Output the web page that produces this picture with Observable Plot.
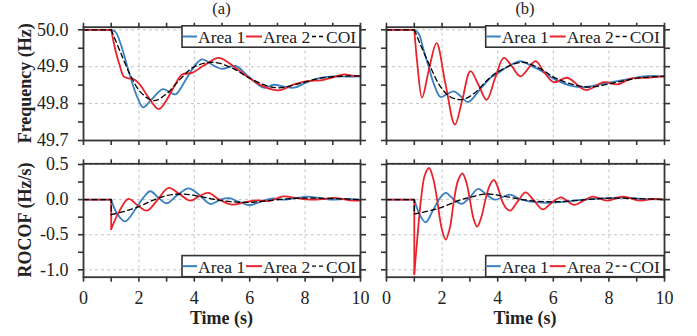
<!DOCTYPE html>
<html><head><meta charset="utf-8">
<script src="https://cdn.jsdelivr.net/npm/d3@7"></script>
<script src="https://cdn.jsdelivr.net/npm/@observablehq/plot@0.6"></script>
<style>
body{margin:0;background:#fff;}
#wrap{position:relative;width:697px;height:336px;overflow:hidden;font-family:'Liberation Serif','Times New Roman',serif;background:#fff;}
#wrap > svg{position:absolute;}
#wrap svg text{font-family:'Liberation Serif','Times New Roman',serif !important;}
</style></head><body><div id="wrap"></div>
<script>
// ---------- data ----------
const seriesNames = ["Area 1", "Area 2", "COI"];
const panelTitles = ["(a)", "(b)"];
const xTicks = [0,1,2,3,4,5,6,7,8,9,10];
const xMajor = [0,2,4,6,8,10];
const freqTicks = [49.7,49.75,49.8,49.85,49.9,49.95,50.0];
const freqMajor = [49.7,49.8,49.9,50.0];
const rocofTicks = [-1.0,-0.75,-0.5,-0.25,0.0,0.25,0.5];
const rocofMajor = [-1.0,-0.5,0.0,0.5];

// [time (s), frequency (Hz)]
const freqA_area1 = [[0,50],[1,50],[1.16,49.994],[1.34,49.962],[1.52,49.917],[1.7,49.87],[1.94,49.818],[2.15,49.79],[2.42,49.808],[2.86,49.839],[3.1,49.832],[3.32,49.825],[3.68,49.863],[3.98,49.899],[4.28,49.92],[4.7,49.903],[5.0,49.894],[5.49,49.902],[5.97,49.872],[6.51,49.843],[6.87,49.851],[7.25,49.846],[7.6,49.843],[8.07,49.858],[8.56,49.87],[9.04,49.874],[9.6,49.873],[10,49.874]];
const freqA_area2 = [[0,50],[1,50],[1.15,49.945],[1.3,49.905],[1.46,49.873],[1.64,49.868],[1.82,49.866],[2.05,49.85],[2.3,49.822],[2.72,49.785],[3.0,49.81],[3.26,49.845],[3.56,49.879],[3.92,49.883],[4.34,49.903],[4.89,49.924],[5.43,49.9],[5.97,49.87],[6.51,49.846],[7.05,49.836],[7.6,49.852],[8.07,49.861],[8.56,49.863],[9.04,49.872],[9.4,49.879],[9.7,49.876],[10,49.874]];
const freqA_coi = [[0,50],[1,50],[1.34,49.938],[1.7,49.876],[2.06,49.831],[2.54,49.808],[3.02,49.828],[3.5,49.867],[3.98,49.899],[4.7,49.912],[5.43,49.894],[5.97,49.87],[6.93,49.843],[7.83,49.855],[8.56,49.869],[9.64,49.875],[10,49.875]];

const freqB_area1 = [[0,50],[1,50],[1.16,49.989],[1.34,49.944],[1.52,49.899],[1.7,49.854],[1.94,49.818],[2.18,49.826],[2.42,49.833],[2.67,49.82],[2.93,49.804],[3.38,49.84],[3.74,49.87],[3.98,49.881],[4.34,49.899],[4.82,49.915],[5.18,49.903],[5.54,49.89],[6.02,49.867],[6.62,49.849],[7.16,49.845],[7.82,49.854],[8.54,49.864],[9.26,49.874],[10,49.874]];
const freqB_area2 = [[0,50],[1,50],[1.1,49.915],[1.28,49.816],[1.52,49.89],[1.8,49.964],[2.12,49.854],[2.46,49.743],[2.72,49.808],[3.02,49.888],[3.32,49.849],[3.6,49.81],[3.92,49.872],[4.22,49.924],[4.52,49.9],[4.82,49.874],[5.36,49.915],[5.66,49.886],[6.02,49.858],[6.5,49.87],[7.16,49.837],[7.82,49.858],[8.3,49.852],[8.78,49.867],[9.38,49.87],[10,49.874]];
const freqB_coi = [[0,50],[1,50],[1.22,49.96],[1.58,49.899],[1.94,49.846],[2.3,49.818],[2.72,49.811],[3.14,49.827],[3.62,49.863],[3.98,49.885],[4.88,49.912],[5.54,49.894],[6.14,49.867],[7.2,49.845],[8.3,49.858],[9.14,49.87],[10,49.874]];

// [time (s), ROCOF (Hz/s)]
const rocA_area1 = [[0,0],[1,0],[1.2,-0.19],[1.5,-0.31],[1.9,-0.12],[2.15,0.02],[2.41,0.119],[2.72,0.02],[3.0,-0.052],[3.35,0.05],[3.79,0.161],[4.2,0.06],[4.57,-0.062],[4.95,0.0],[5.25,0.02],[5.6,-0.03],[6.0,-0.08],[6.45,-0.02],[6.8,0.015],[7.3,0.0],[8.1,0.042],[8.9,0.0],[9.5,0.01],[10,0.0]];
const rocA_area2 = [[0,0],[1,0],[1,-0.42],[1.3,-0.16],[1.62,0.01],[1.95,-0.08],[2.29,-0.157],[2.68,0.0],[3.07,0.166],[3.46,0.08],[3.85,-0.015],[4.18,0.05],[4.51,0.095],[4.9,0.0],[5.35,-0.07],[5.8,-0.04],[6.2,-0.01],[6.7,-0.02],[7.2,0.045],[7.7,0.02],[8.2,0.0],[8.7,0.01],[9.1,0.025],[9.6,-0.01],[10,-0.015]];
const rocA_coi = [[0,0],[1,0],[1,-0.214],[1.5,-0.165],[2.0,-0.1],[2.5,-0.01],[3.0,0.057],[3.6,0.08],[4.2,0.045],[4.7,0.005],[5.3,-0.028],[6.0,-0.04],[6.9,-0.005],[7.8,0.02],[8.8,0.018],[10,0.0]];

const rocB_area1 = [[0,0],[1,0],[1.2,-0.22],[1.41,-0.323],[1.65,-0.17],[1.92,0.02],[2.13,0.095],[2.4,0.01],[2.7,-0.06],[2.97,0.02],[3.3,0.152],[3.6,0.07],[3.9,0.0],[4.44,0.07],[4.85,0.0],[5.44,-0.04],[6.16,-0.04],[7.1,0.0],[7.96,0.02],[8.5,0.03],[9.2,0.01],[10,0.0]];
const rocB_area2 = [[0,0],[1,0],[1,-1.06],[1.12,-0.5],[1.24,0.0],[1.38,0.35],[1.53,0.45],[1.68,0.3],[1.82,0.0],[1.98,-0.4],[2.13,-0.57],[2.28,-0.4],[2.43,0.0],[2.58,0.28],[2.73,0.375],[2.87,0.25],[3.0,0.0],[3.13,-0.27],[3.26,-0.385],[3.41,-0.25],[3.56,0.0],[3.71,0.2],[3.86,0.28],[4.0,0.18],[4.14,0.0],[4.3,-0.12],[4.46,-0.157],[4.62,-0.08],[4.77,0.0],[5.0,0.104],[5.3,-0.01],[5.62,-0.14],[5.95,-0.04],[6.28,0.033],[6.5,-0.02],[6.76,-0.076],[7.1,-0.01],[7.42,0.043],[7.94,-0.014],[8.5,0.043],[9.1,-0.014],[9.64,0.01],[10,0.0]];
const rocB_coi = [[0,0],[1,0],[1,-0.204],[1.8,-0.133],[2.7,0.0],[3.0,0.033],[3.6,0.08],[4.2,0.05],[4.9,0.0],[5.5,-0.025],[6.16,-0.03],[7.2,0.0],[8.0,0.02],[9.0,0.015],[10,0.0]];

// ---------- styling ----------
const colors = ["#3a7fc1", "#e8232b", "#000000"];
const dashes = [null, null, "5,3.5"];
const widths = [1.8, 1.8, 1.3];
const axisColor = "#333";
const fontFamily = "'Liberation Serif','Times New Roman',serif";

function splitSeries(pts) {
  let k = 0;
  pts.forEach((p, i) => { if (p[0] <= 1) k = i; });
  return {pre: pts.slice(0, k + 1), post: pts.slice(k)};
}

function near(arr, d) { return arr.some(v => Math.abs(v - d) < 1e-9); }

function panel(o) {
  const marks = [
    Plot.gridX([2,4,6,8], {stroke:"#c4c4c4", strokeOpacity:1, strokeDasharray:"3,3", strokeWidth:1}),
    Plot.gridY(o.ymajor, {stroke:"#c4c4c4", strokeOpacity:1, strokeDasharray:"3,3", strokeWidth:1})
  ];
  o.series.forEach((pts, i) => {
    const s = splitSeries(pts);
    const common = {x: d => d[0], y: d => d[1], stroke: colors[i], strokeWidth: widths[i], strokeDasharray: dashes[i]};
    marks.push(Plot.line(s.pre, {...common, curve: "linear"}));
    marks.push(Plot.line(s.post, {...common, curve: "catmull-rom"}));
  });
  const ax = {tickSize:5, label:null, stroke:axisColor, strokeWidth:1.6, fontSize:18, fontFamily, fill:"#222"};
  marks.push(
    Plot.frame({stroke:axisColor, strokeWidth:1.8}),
    Plot.axisX(xTicks, {...ax, anchor:"bottom", tickPadding:9,
      tickFormat: o.xlabels ? (d => near(xMajor, d) ? String(d) : "") : () => ""}),
    Plot.axisX(xTicks, {...ax, anchor:"top", tickFormat: () => ""}),
    Plot.axisY(o.yticks, {...ax, anchor:"left", tickPadding:10,
      tickFormat: o.ylabels ? (d => near(o.ymajor, d) ? d.toFixed(1) : "") : () => ""}),
    Plot.axisY(o.yticks, {...ax, anchor:"right", tickFormat: () => ""})
  );
  const svg = Plot.plot({
    width: o.width, height: o.height,
    marginLeft: o.ml, marginRight: o.mr, marginTop: o.mt, marginBottom: o.mb,
    x: {domain: [0, 10]},
    y: {domain: o.ydomain},
    style: {fontFamily, fontSize: "18px", color: "#222", background: "transparent", overflow: "visible"},
    marks
  });
  svg.style.position = "absolute";
  svg.style.left = o.left + "px";
  svg.style.top = o.top + "px";
  svg.style.fontFamily = fontFamily;
  svg.querySelectorAll("text").forEach(t => t.style.fontFamily = fontFamily);
  return svg;
}

const wrap = document.getElementById("wrap");
const freqDomain = [49.7, 50.007];
const rocDomain = [-1.105, 0.51];

// frame: (a) x 83..360, (b) x 386..664 ; top y 26.7..140, bottom y 163.3..276.7
wrap.appendChild(panel({left:0, top:0, width:372, height:152, ml:83, mr:12, mt:26.7, mb:12,
  ydomain:freqDomain, yticks:freqTicks, ymajor:freqMajor, ylabels:true, xlabels:false,
  series:[freqA_area1, freqA_area2, freqA_coi]}));
wrap.appendChild(panel({left:374, top:0, width:323, height:152, ml:12, mr:33, mt:26.7, mb:12,
  ydomain:freqDomain, yticks:freqTicks, ymajor:freqMajor, ylabels:false, xlabels:false,
  series:[freqB_area1, freqB_area2, freqB_coi]}));
wrap.appendChild(panel({left:0, top:152, width:372, height:184, ml:83, mr:12, mt:11.3, mb:59.3,
  ydomain:rocDomain, yticks:rocofTicks, ymajor:rocofMajor, ylabels:true, xlabels:true,
  series:[rocA_area1, rocA_area2, rocA_coi]}));
wrap.appendChild(panel({left:374, top:152, width:323, height:184, ml:12, mr:33, mt:11.3, mb:59.3,
  ydomain:rocDomain, yticks:rocofTicks, ymajor:rocofMajor, ylabels:false, xlabels:true,
  series:[rocB_area1, rocB_area2, rocB_coi]}));

// ---------- overlay: titles, axis labels, legends ----------
const ov = d3.create("svg").attr("width", 697).attr("height", 336)
  .style("position", "absolute").style("left", "0px").style("top", "0px")
  .style("font-family", fontFamily).style("pointer-events", "none");

const titleX = [221.5, 525];
panelTitles.forEach((t, i) => ov.append("text").attr("x", titleX[i]).attr("y", 14)
  .attr("text-anchor", "middle").attr("font-size", 16.5).attr("fill", "#222").text(t));
titleX.forEach(x => ov.append("text").attr("x", x).attr("y", 324)
  .attr("text-anchor", "middle").attr("font-size", 18).attr("font-weight", "bold").attr("fill", "#222").text("Time (s)"));
[["Frequency (Hz)", 83.3], ["ROCOF (Hz/s)", 220]].forEach(([t, cy]) =>
  ov.append("text").attr("transform", `translate(31,${cy}) rotate(-90)`)
    .attr("text-anchor", "middle").attr("font-size", 18).attr("font-weight", "bold").attr("fill", "#222").text(t));

function legend(x0, x1, y0, y1) {
  const g = ov.append("g");
  g.append("rect").attr("x", x0).attr("y", y0).attr("width", x1 - x0).attr("height", y1 - y0)
    .attr("fill", "#fff").attr("stroke", axisColor).attr("stroke-width", 1.6);
  const ym = (y0 + y1) / 2;
  const base = ym + 6.8;
  const items = [[x0 + 1, x0 + 15, x0 + 16], [x0 + 64, x0 + 80, x0 + 81], [x0 + 130, x0 + 143, x0 + 144]];
  items.forEach(([a, b, tx], i) => {
    g.append("line").attr("x1", a).attr("x2", b).attr("y1", ym).attr("y2", ym)
      .attr("stroke", colors[i]).attr("stroke-width", i === 2 ? 1.3 : 2)
      .attr("stroke-dasharray", i === 2 ? "4,3" : null);
    g.append("text").attr("x", tx).attr("y", base).attr("font-size", 17.5).attr("fill", "#222").text(seriesNames[i]);
  });
}
legend(182, 360, 25.8, 47.2);
legend(485.7, 664, 25.8, 47.2);
legend(182, 360, 255.6, 276.7);
legend(485.7, 664, 255.6, 276.7);

wrap.appendChild(ov.node());
</script></body></html>
